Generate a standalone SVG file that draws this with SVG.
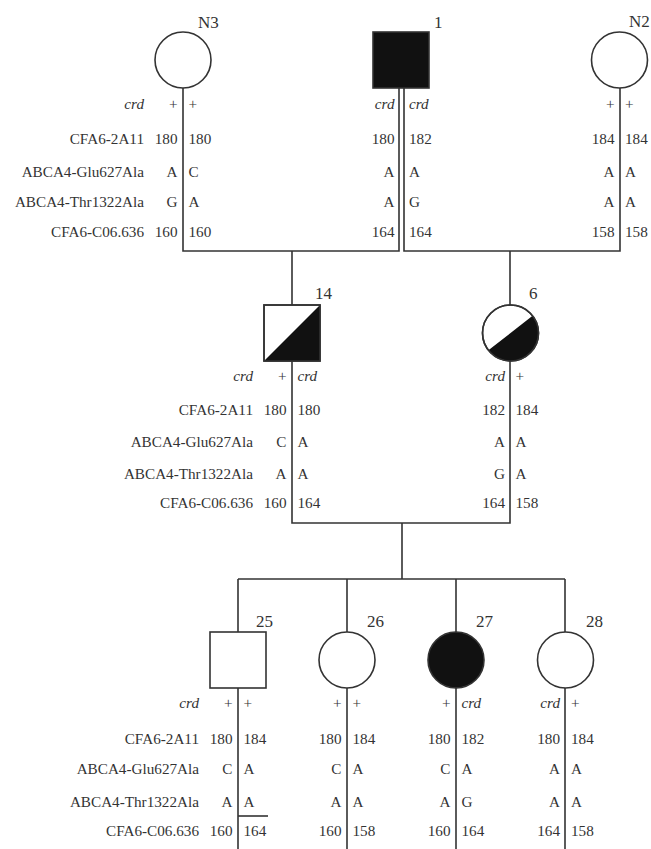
<svg xmlns="http://www.w3.org/2000/svg" width="651" height="849" viewBox="0 0 651 849">
  <style>
    .t { font-family: "Liberation Serif", "Times New Roman", serif; font-size: 15.2px; fill: #333; }
    .e { text-anchor: end; }
    .i { font-style: italic; }
    .lbl { font-family: "Liberation Serif", "Times New Roman", serif; font-size: 17px; fill: #333; }
    .sym { fill: #fff; stroke: #333; stroke-width: 1.6; }
    .aff { fill: #111; stroke: #333; stroke-width: 1.6; }
    .half { fill: #111; stroke: none; }
    .ln { fill: none; stroke: #333; stroke-width: 1.6; }
  </style>
  <rect width="651" height="849" fill="#fff"/>

  <!-- pedigree lines -->
  <g id="connectors" class="ln">
    <!-- N3 x 1 mating -->
    <polyline points="183,88 183,251 399,251 399,88"/>
    <!-- 1 x N2 mating -->
    <polyline points="404,88 404,251 620,251 620,88"/>
    <!-- descent lines to 14 and 6 -->
    <line x1="292" y1="251" x2="292" y2="305"/>
    <line x1="510" y1="251" x2="510" y2="305"/>
    <!-- 14 x 6 mating -->
    <polyline points="292,361 292,523 510,523 510,361"/>
    <line x1="402" y1="523" x2="402" y2="579"/>
    <!-- sibship -->
    <line x1="238" y1="579" x2="565" y2="579"/>
    <line x1="238" y1="579" x2="238" y2="632"/>
    <line x1="347" y1="579" x2="347" y2="632"/>
    <line x1="456" y1="579" x2="456" y2="632"/>
    <line x1="565" y1="579" x2="565" y2="632"/>
    <!-- haplotype dividers below the children -->
    <line x1="238" y1="688" x2="238" y2="849"/>
    <line x1="347" y1="688" x2="347" y2="849"/>
    <line x1="456" y1="688" x2="456" y2="849"/>
    <line x1="565" y1="688" x2="565" y2="849"/>
    <!-- recombination mark -->
    <line x1="238" y1="816" x2="268" y2="816"/>
  </g>

  <!-- marker names -->
  <g id="markers-gen1">
    <text class="t e i" x="144" y="109">crd</text>
    <text class="t e" x="144" y="144">CFA6-2A11</text>
    <text class="t e" x="144" y="177">ABCA4-Glu627Ala</text>
    <text class="t e" x="144" y="207">ABCA4-Thr1322Ala</text>
    <text class="t e" x="144" y="237">CFA6-C06.636</text>
  </g>
  <g id="markers-gen2">
    <text class="t e i" x="253" y="381">crd</text>
    <text class="t e" x="253" y="415">CFA6-2A11</text>
    <text class="t e" x="253" y="447">ABCA4-Glu627Ala</text>
    <text class="t e" x="253" y="479">ABCA4-Thr1322Ala</text>
    <text class="t e" x="253" y="508">CFA6-C06.636</text>
  </g>
  <g id="markers-gen3">
    <text class="t e i" x="199" y="708">crd</text>
    <text class="t e" x="199" y="744">CFA6-2A11</text>
    <text class="t e" x="199" y="774">ABCA4-Glu627Ala</text>
    <text class="t e" x="199" y="807">ABCA4-Thr1322Ala</text>
    <text class="t e" x="199" y="836">CFA6-C06.636</text>
  </g>

  <!-- generation I -->
  <g id="N3">
    <circle class="sym" cx="183" cy="60" r="28"/>
    <text class="lbl" x="198" y="28">N3</text>
    <g class="t e">
      <text x="177.5" y="109">+</text>
      <text x="177.5" y="144">180</text>
      <text x="177.5" y="177">A</text>
      <text x="177.5" y="207">G</text>
      <text x="177.5" y="237">160</text>
    </g>
    <g class="t">
      <text x="188.5" y="109">+</text>
      <text x="188.5" y="144">180</text>
      <text x="188.5" y="177">C</text>
      <text x="188.5" y="207">A</text>
      <text x="188.5" y="237">160</text>
    </g>
  </g>

  <g id="I1">
    <rect class="aff" x="373" y="32" width="56" height="56"/>
    <text class="lbl" x="434" y="28">1</text>
    <g class="t e">
      <text class="i" x="394.5" y="109">crd</text>
      <text x="394.5" y="144">180</text>
      <text x="394.5" y="177">A</text>
      <text x="394.5" y="207">A</text>
      <text x="394.5" y="237">164</text>
    </g>
    <g class="t">
      <text class="i" x="409" y="109">crd</text>
      <text x="409" y="144">182</text>
      <text x="409" y="177">A</text>
      <text x="409" y="207">G</text>
      <text x="409" y="237">164</text>
    </g>
  </g>

  <g id="N2">
    <circle class="sym" cx="619.5" cy="60" r="28"/>
    <text class="lbl" x="629" y="27">N2</text>
    <g class="t e">
      <text x="614.5" y="109">+</text>
      <text x="614.5" y="144">184</text>
      <text x="614.5" y="177">A</text>
      <text x="614.5" y="207">A</text>
      <text x="614.5" y="237">158</text>
    </g>
    <g class="t">
      <text x="625" y="109">+</text>
      <text x="625" y="144">184</text>
      <text x="625" y="177">A</text>
      <text x="625" y="207">A</text>
      <text x="625" y="237">158</text>
    </g>
  </g>

  <!-- generation II -->
  <g id="II14">
    <rect class="sym" x="264" y="305" width="56" height="56"/>
    <path class="half" d="M264,361 L320,305 L320,361 Z"/>
    <rect x="264" y="305" width="56" height="56" fill="none" stroke="#333" stroke-width="1.6"/>
    <text class="lbl" x="315" y="299">14</text>
    <g class="t e">
      <text x="286.5" y="381">+</text>
      <text x="286.5" y="415">180</text>
      <text x="286.5" y="447">C</text>
      <text x="286.5" y="479">A</text>
      <text x="286.5" y="508">160</text>
    </g>
    <g class="t">
      <text class="i" x="297.5" y="381">crd</text>
      <text x="297.5" y="415">180</text>
      <text x="297.5" y="447">A</text>
      <text x="297.5" y="479">A</text>
      <text x="297.5" y="508">164</text>
    </g>
  </g>

  <g id="II6">
    <circle class="sym" cx="510.5" cy="333" r="28"/>
    <path class="half" d="M488.4,350.2 A28,28 0 0 0 532.6,315.8 Z"/>
    <circle cx="510.5" cy="333" r="28" fill="none" stroke="#333" stroke-width="1.6"/>
    <text class="lbl" x="529" y="299">6</text>
    <g class="t e">
      <text class="i" x="505" y="381">crd</text>
      <text x="505" y="415">182</text>
      <text x="505" y="447">A</text>
      <text x="505" y="479">G</text>
      <text x="505" y="508">164</text>
    </g>
    <g class="t">
      <text x="515.5" y="381">+</text>
      <text x="515.5" y="415">184</text>
      <text x="515.5" y="447">A</text>
      <text x="515.5" y="479">A</text>
      <text x="515.5" y="508">158</text>
    </g>
  </g>

  <!-- generation III -->
  <g id="III25">
    <rect class="sym" x="210" y="632" width="56" height="56"/>
    <text class="lbl" x="256" y="627">25</text>
    <g class="t e">
      <text x="232.5" y="708">+</text>
      <text x="232.5" y="744">180</text>
      <text x="232.5" y="774">C</text>
      <text x="232.5" y="807">A</text>
      <text x="232.5" y="836">160</text>
    </g>
    <g class="t">
      <text x="243.5" y="708">+</text>
      <text x="243.5" y="744">184</text>
      <text x="243.5" y="774">A</text>
      <text x="243.5" y="807">A</text>
      <text x="243.5" y="836">164</text>
    </g>
  </g>

  <g id="III26">
    <circle class="sym" cx="347" cy="660" r="28"/>
    <text class="lbl" x="367" y="627">26</text>
    <g class="t e">
      <text x="341.5" y="708">+</text>
      <text x="341.5" y="744">180</text>
      <text x="341.5" y="774">C</text>
      <text x="341.5" y="807">A</text>
      <text x="341.5" y="836">160</text>
    </g>
    <g class="t">
      <text x="352.5" y="708">+</text>
      <text x="352.5" y="744">184</text>
      <text x="352.5" y="774">A</text>
      <text x="352.5" y="807">A</text>
      <text x="352.5" y="836">158</text>
    </g>
  </g>

  <g id="III27">
    <circle class="aff" cx="456" cy="660" r="28"/>
    <text class="lbl" x="476" y="627">27</text>
    <g class="t e">
      <text x="450.5" y="708">+</text>
      <text x="450.5" y="744">180</text>
      <text x="450.5" y="774">C</text>
      <text x="450.5" y="807">A</text>
      <text x="450.5" y="836">160</text>
    </g>
    <g class="t">
      <text class="i" x="461.5" y="708">crd</text>
      <text x="461.5" y="744">182</text>
      <text x="461.5" y="774">A</text>
      <text x="461.5" y="807">G</text>
      <text x="461.5" y="836">164</text>
    </g>
  </g>

  <g id="III28">
    <circle class="sym" cx="565.5" cy="660" r="28"/>
    <text class="lbl" x="586" y="627">28</text>
    <g class="t e">
      <text class="i" x="560" y="708">crd</text>
      <text x="560" y="744">180</text>
      <text x="560" y="774">A</text>
      <text x="560" y="807">A</text>
      <text x="560" y="836">164</text>
    </g>
    <g class="t">
      <text x="571" y="708">+</text>
      <text x="571" y="744">184</text>
      <text x="571" y="774">A</text>
      <text x="571" y="807">A</text>
      <text x="571" y="836">158</text>
    </g>
  </g>
</svg>
